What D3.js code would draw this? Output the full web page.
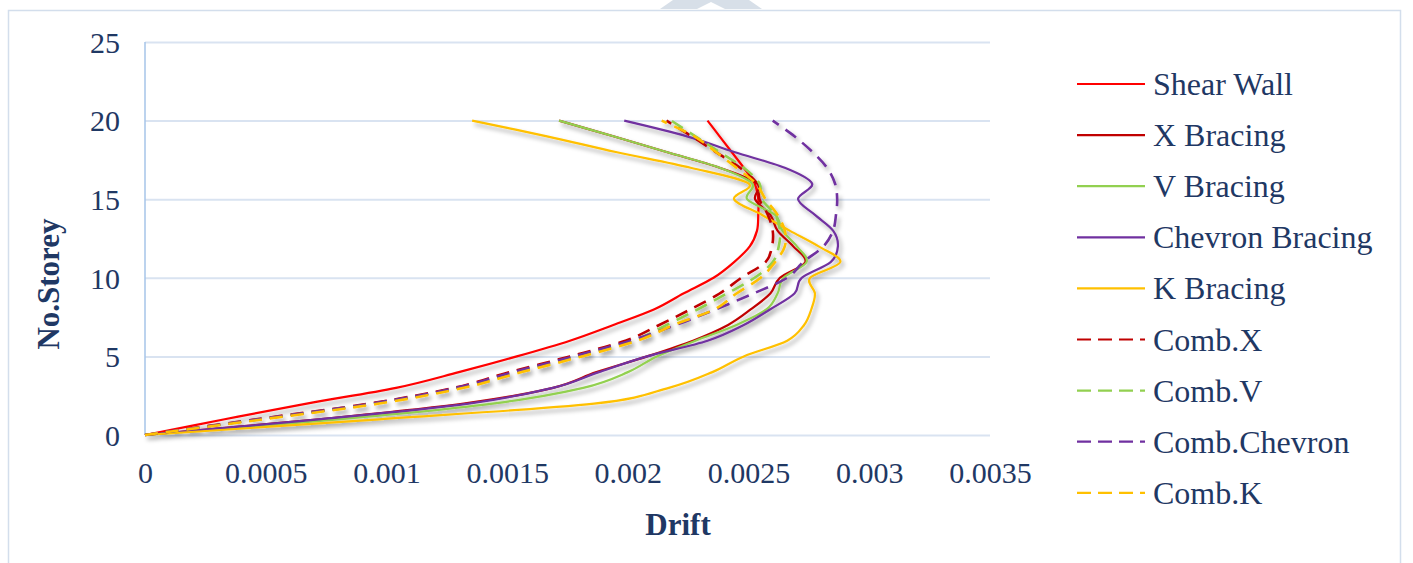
<!DOCTYPE html>
<html>
<head>
<meta charset="utf-8">
<script src="https://cdn.jsdelivr.net/npm/d3@7/dist/d3.min.js"></script>
<style>
  html, body { margin: 0; padding: 0; background: #ffffff; }
  svg { display: block; }
</style>
</head>
<body>
<svg id="chart" width="1413" height="563"></svg>
<script>
// Storey levels (0 = base, 20 = roof)
const storeys = d3.range(0, 21);

// Inter-storey drift for each lateral system, storey 0 .. 20
const shearWall   = [0, 0.00033, 0.00067, 0.00104, 0.00130, 0.00154, 0.00176, 0.00194, 0.00211, 0.00223, 0.002355, 0.00244, 0.002505, 0.002535, 0.00254, 0.00254, 0.002525, 0.00248, 0.00243, 0.00238, 0.00233];
const xBracing    = [0, 0.00072, 0.00132, 0.00169, 0.00187, 0.00208, 0.00227, 0.002415, 0.00251, 0.00259, 0.00263, 0.002735, 0.002685, 0.00262, 0.00259, 0.002527, 0.002535, 0.00238, 0.00216, 0.00194, 0.001715];
const vBracing    = [0, 0.00080, 0.00144, 0.001815, 0.00200, 0.00212, 0.00228, 0.00245, 0.002575, 0.00262, 0.002645, 0.00274, 0.00270, 0.00264, 0.00261, 0.002494, 0.002515, 0.00238, 0.00216, 0.00194, 0.001715];
const chevron     = [0, 0.00072, 0.00134, 0.00169, 0.00188, 0.00208, 0.00233, 0.00248, 0.00259, 0.00269, 0.00272, 0.00284, 0.00287, 0.00285, 0.002775, 0.002705, 0.002763, 0.00265, 0.00244, 0.002245, 0.001985];
const kBracing    = [0, 0.00097, 0.00186, 0.00217, 0.00235, 0.00248, 0.00266, 0.00273, 0.00276, 0.002775, 0.002755, 0.00288, 0.00279, 0.00267, 0.002556, 0.00244, 0.00250, 0.00226, 0.00195, 0.001665, 0.001355];
const combX       = [0, 0.00046, 0.00093, 0.00128, 0.00151, 0.00176, 0.00199, 0.00213, 0.00226, 0.00238, 0.00247, 0.00257, 0.002597, 0.00260, 0.00258, 0.002545, 0.002535, 0.002465, 0.002365, 0.002265, 0.00216];
const combV       = [0, 0.000475, 0.00095, 0.00130, 0.00154, 0.00179, 0.00202, 0.00216, 0.00229, 0.00241, 0.002525, 0.00260, 0.002625, 0.00263, 0.00261, 0.002555, 0.002545, 0.00248, 0.00238, 0.00228, 0.00218];
const combChevron = [0, 0.00047, 0.00094, 0.00129, 0.001525, 0.001775, 0.00201, 0.00220, 0.002365, 0.00252, 0.00266, 0.002726, 0.00281, 0.00285, 0.002862, 0.002867, 0.002858, 0.002825, 0.002765, 0.00269, 0.00260];
const combK       = [0, 0.00049, 0.00097, 0.00132, 0.00156, 0.00181, 0.00204, 0.00219, 0.00236, 0.00245, 0.00255, 0.00261, 0.00265, 0.00265, 0.00262, 0.00257, 0.00253, 0.00245, 0.002365, 0.002275, 0.00214];

// Series names, colours and line styles (drawing order)
const seriesNames  = ["Shear Wall", "X Bracing", "V Bracing", "Chevron Bracing", "K Bracing", "Comb.X", "Comb.V", "Comb.Chevron", "Comb.K"];
const seriesValues = [shearWall, xBracing, vBracing, chevron, kBracing, combX, combV, combChevron, combK];
const seriesColors = ["#FF0000", "#C00000", "#92D050", "#7030A0", "#FFC000", "#C00000", "#92D050", "#7030A0", "#FFC000"];
const seriesDashed = [false, false, false, false, false, true, true, true, true];

// Axis ticks
const xTickValues = [0, 0.0005, 0.001, 0.0015, 0.002, 0.0025, 0.003, 0.0035];
const xTickLabels = ["0", "0.0005", "0.001", "0.0015", "0.002", "0.0025", "0.003", "0.0035"];
const yTickValues = [0, 5, 10, 15, 20, 25];
const yTickLabels = ["0", "5", "10", "15", "20", "25"];

const textColor = "#1F3864";
const fontFamily = "'Liberation Serif', 'Times New Roman', serif";

const svg = d3.select("#chart");

// Filter giving the lines their soft drop shadow
const defs = svg.append("defs");
const shadow = defs.append("filter").attr("id", "lineShadow")
  .attr("x", "-10%").attr("y", "-10%").attr("width", "130%").attr("height", "130%");
shadow.append("feDropShadow")
  .attr("dx", 2.5).attr("dy", 3.5).attr("stdDeviation", 2.2)
  .attr("flood-color", "#000").attr("flood-opacity", 0.34);

// Faint mark at the top edge of the page
svg.append("path")
  .attr("d", "M673,0 L749,0 L762,9 L725,9 L711,2 L697,9 L660,9 Z")
  .attr("fill", "#D7DFE8");

// Chart frame
svg.append("rect")
  .attr("x", 8.5).attr("y", 10.5).attr("width", 1392).attr("height", 570)
  .attr("fill", "none").attr("stroke", "#D3DEEC").attr("stroke-width", 1.5);

const x = d3.scaleLinear().domain([0, 0.0035]).range([145, 990]);
const y = d3.scaleLinear().domain([0, 25]).range([435, 42]);

// Horizontal gridlines + y tick labels
const yAxis = d3.axisLeft(y)
  .tickValues(yTickValues)
  .tickFormat((d, i) => yTickLabels[i])
  .tickSize(-(x.range()[1] - x.range()[0]))
  .tickPadding(25);
const gy = svg.append("g").attr("transform", `translate(${x(0)},0)`).call(yAxis);
gy.select(".domain").remove();
gy.selectAll(".tick line").attr("stroke", "#D9E3F1").attr("stroke-width", 2);
gy.selectAll(".tick text")
  .attr("fill", textColor).attr("font-family", fontFamily).attr("font-size", 30)
  .attr("dy", "0.34em");

// Vertical axis line
svg.append("line")
  .attr("x1", x(0)).attr("x2", x(0)).attr("y1", y(25)).attr("y2", y(0))
  .attr("stroke", "#A6C4E8").attr("stroke-width", 1.5);

// X tick labels
const xAxis = d3.axisBottom(x)
  .tickValues(xTickValues)
  .tickFormat((d, i) => xTickLabels[i])
  .tickSize(0)
  .tickPadding(27);
const gx = svg.append("g").attr("transform", `translate(0,${y(0)})`).call(xAxis);
gx.select(".domain").remove();
gx.selectAll(".tick text")
  .attr("fill", textColor).attr("font-family", fontFamily).attr("font-size", 30);

// Axis titles
svg.append("text")
  .attr("x", 678).attr("y", 535)
  .attr("text-anchor", "middle")
  .attr("font-family", fontFamily).attr("font-size", 31).attr("font-weight", "bold")
  .attr("fill", textColor)
  .text("Drift");

svg.append("text")
  .attr("transform", "translate(59,284) rotate(-90)")
  .attr("text-anchor", "middle")
  .attr("font-family", fontFamily).attr("font-size", 31).attr("font-weight", "bold")
  .attr("fill", textColor)
  .text("No.Storey");

// Smoothed drift profiles
const line = d3.line()
  .x(d => x(d.drift))
  .y(d => y(d.storey))
  .curve(d3.curveCardinal.tension(0));

const plot = svg.append("g").attr("filter", "url(#lineShadow)");
seriesValues.forEach((vals, i) => {
  const pts = storeys.map((s, j) => ({ storey: s, drift: vals[j] }));
  plot.append("path")
    .datum(pts)
    .attr("d", line)
    .attr("fill", "none")
    .attr("stroke", seriesColors[i])
    .attr("stroke-width", seriesDashed[i] ? 2.6 : 2.2)
    .attr("stroke-dasharray", seriesDashed[i] ? "13,8" : null)
    .attr("stroke-linejoin", "round");
});

// Legend
const legend = svg.append("g");
seriesNames.forEach((name, i) => {
  const cy = 84 + i * 51.1;
  legend.append("line")
    .attr("x1", 1077).attr("x2", 1145).attr("y1", cy).attr("y2", cy)
    .attr("stroke", seriesColors[i]).attr("stroke-width", 2.2)
    .attr("stroke-dasharray", seriesDashed[i] ? "14,7" : null);
  legend.append("text")
    .attr("x", 1153).attr("y", cy + 11)
    .attr("font-family", fontFamily).attr("font-size", 32)
    .attr("fill", textColor)
    .text(name);
});
</script>
</body>
</html>
